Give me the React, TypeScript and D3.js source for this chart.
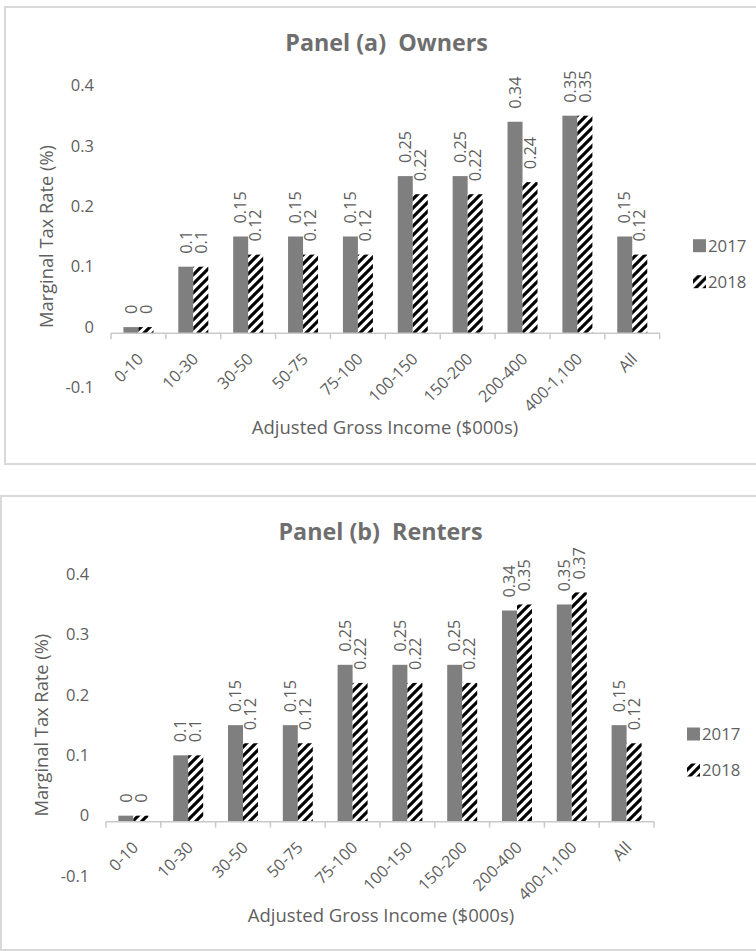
import React from "react";
import * as d3 from "d3";

const categories = ["0-10", "10-30", "30-50", "50-75", "75-100", "100-150", "150-200", "200-400", "400-1,100", "All"];
const seriesNames = ["2017", "2018"];
const owners2017 = [0, 0.1, 0.15, 0.15, 0.15, 0.25, 0.25, 0.34, 0.35, 0.15];
const owners2018 = [0, 0.1, 0.12, 0.12, 0.12, 0.22, 0.22, 0.24, 0.35, 0.12];
const renters2017 = [0, 0.1, 0.15, 0.15, 0.25, 0.25, 0.25, 0.34, 0.35, 0.15];
const renters2018 = [0, 0.1, 0.12, 0.12, 0.22, 0.22, 0.22, 0.35, 0.37, 0.12];
const yTicks = [-0.1, 0, 0.1, 0.2, 0.3, 0.4];
const yAxisTitle = "Marginal Tax Rate (%)";
const xAxisTitle = "Adjusted Gross Income ($000s)";

const FONT = "'Open Sans', 'Noto Sans', sans-serif";
const TEXT = "#5f5f5f";
const GRAY = "#7f7f7f";
const AXIS = "#c9c9c9";

type Layout = {
  boxX: number; boxY: number; boxH: number;
  x0: number; x1: number; yTop: number; yBottom: number;
  titleX: number; titleY: number;
  tickLabelX: number; yTitleX: number;
  legendX: number; legendY: number;
  xTitleX: number; xTitleY: number;
};

function Panel({ title, s2017, s2018, L }: { title: string; s2017: number[]; s2018: number[]; L: Layout }) {
  const x = d3.scaleBand<string>().domain(categories).range([L.x0, L.x1]).padding(0);
  const bw = x.bandwidth();
  const xs = d3.scaleBand<string>().domain(seriesNames).range([0, bw]).paddingInner(0).paddingOuter((bw / 15 - 2) / 2);
  const y = d3.scaleLinear().domain([-0.1, 0.4]).range([L.yBottom, L.yTop]);
  const axisY = y(-0.01);
  const series = [s2017, s2018];
  const fills = [GRAY, "url(#hatch)"];
  const yMid = (L.yTop + L.yBottom) / 2;
  return (
    <g>
      <rect x={L.boxX} y={L.boxY} width={800} height={L.boxH} fill="none" stroke="#d9d9d9" strokeWidth={2} />
      <text x={L.titleX} y={L.titleY} textAnchor="middle" fontFamily={FONT} fontWeight="bold" fontSize={23.3} fill="#6e6e6e" style={{ whiteSpace: "pre" }}>{title}</text>
      {yTicks.map((t) => (
        <text key={t} x={L.tickLabelX} y={y(t)} dy="0.35em" textAnchor="end" fontFamily={FONT} fontSize={16.5} fill={TEXT}>{String(t)}</text>
      ))}
      <text transform={`translate(${L.yTitleX},${yMid}) rotate(-90)`} textAnchor="middle" fontFamily={FONT} fontSize={18.3} fill={TEXT}>{yAxisTitle}</text>
      {series.map((vals, si) =>
        vals.map((v, i) => {
          const bx = (x(categories[i]) as number) + (xs(seriesNames[si]) as number);
          const w = xs.bandwidth();
          const top = y(v);
          return (
            <g key={`${si}-${i}`}>
              <rect x={bx} y={top} width={w} height={axisY - top} fill={fills[si]} />
              <text transform={`translate(${bx + w / 2 + 5.7},${top - 13}) rotate(-90)`} textAnchor="start" fontFamily={FONT} fontSize={16.3} fill={TEXT}>{String(v)}</text>
            </g>
          );
        })
      )}
      <line x1={L.x0} x2={L.x1} y1={axisY} y2={axisY} stroke={AXIS} strokeWidth={1.5} />
      {d3.range(categories.length + 1).map((i) => {
        const tx = L.x0 + i * bw;
        return <line key={i} x1={tx} x2={tx} y1={axisY} y2={axisY + 6} stroke={AXIS} strokeWidth={1.5} />;
      })}
      {categories.map((c) => {
        const cx = (x(c) as number) + bw / 2;
        return (
          <text key={c} transform={`translate(${cx + 6},${axisY + 27}) rotate(-45)`} textAnchor="end" fontFamily={FONT} fontSize={16.3} fill={TEXT}>{c}</text>
        );
      })}
      <text x={L.xTitleX} y={L.xTitleY} textAnchor="middle" fontFamily={FONT} fontSize={18.5} fill={TEXT}>{xAxisTitle}</text>
      {seriesNames.map((s, si) => (
        <g key={s} transform={`translate(${L.legendX},${L.legendY + si * 36})`}>
          <rect x={0} y={-6.5} width={13} height={13} fill={fills[si]} />
          <text x={15} y={0} dy="0.35em" fontFamily={FONT} fontSize={16.8} fill={TEXT}>{s}</text>
        </g>
      ))}
    </g>
  );
}

const layoutA: Layout = {
  boxX: 5, boxY: 7, boxH: 457,
  x0: 111, x1: 659.7, yTop: 85.5, yBottom: 387.5,
  titleX: 386.6, titleY: 50.7,
  tickLabelX: 94, yTitleX: 53,
  legendX: 693, legendY: 245.7,
  xTitleX: 385, xTitleY: 433.5,
};
const layoutB: Layout = {
  boxX: 1, boxY: 496, boxH: 454,
  x0: 106, x1: 654, yTop: 574.3, yBottom: 876,
  titleX: 380.5, titleY: 540,
  tickLabelX: 89.3, yTitleX: 48,
  legendX: 687, legendY: 734,
  xTitleX: 381, xTitleY: 921.5,
};

export default function App() {
  return (
    <svg width={756} height={951} style={{ position: "absolute", left: 0, top: 0, background: "#fff" }}>
      <defs>
        <pattern id="hatch" patternUnits="userSpaceOnUse" width={9} height={9}>
          <rect width={9} height={9} fill="#fff" />
          <path d="M0,9 L9,0 M-2.25,2.25 L2.25,-2.25 M6.75,11.25 L11.25,6.75" stroke="#000" strokeWidth={3.1} />
        </pattern>
      </defs>
      <Panel title="Panel (a)  Owners" s2017={owners2017} s2018={owners2018} L={layoutA} />
      <Panel title="Panel (b)  Renters" s2017={renters2017} s2018={renters2018} L={layoutB} />
    </svg>
  );
}
